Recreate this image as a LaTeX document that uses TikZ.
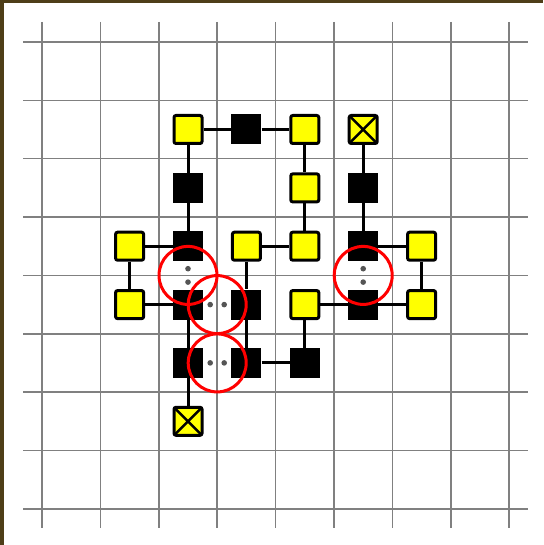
\documentclass[tikz,border=0pt]{standalone}
\usetikzlibrary{calc}
\definecolor{frame}{RGB}{78,62,24}
\definecolor{gridc}{RGB}{128,128,128}
\definecolor{dotc}{RGB}{85,85,85}
\definecolor{ylw}{RGB}{255,255,0}
\definecolor{ringred}{RGB}{255,0,0}
\tikzset{
  ysq/.style={draw=black, line width=3pt, fill=ylw, minimum size=28pt, inner sep=0pt, rounded corners=2pt, rectangle},
  bsq/.style={fill=black, minimum size=30pt, inner sep=0pt, rectangle},
  xsq/.style={ysq, path picture={\draw[line width=2.5pt] (path picture bounding box.north west) -- (path picture bounding box.south east) (path picture bounding box.north east) -- (path picture bounding box.south west);}},
  conn/.style={draw=black, line width=3pt},
  ring/.style={circle, draw=ringred, line width=3pt, minimum size=58pt, inner sep=0pt},
  gdot/.style={circle, fill=dotc, minimum size=5.6pt, inner sep=0pt},
  gridline/.style={draw=gridc, line width=1.6pt}
}
\begin{document}
\begin{tikzpicture}[x=1pt,y=-1pt]
\useasboundingbox (0,0) rectangle (543,545);
\fill[white] (0,0) rectangle (543,545);
\fill[frame] (0,0) rectangle (4,545);
\fill[frame] (0,0) rectangle (543,3);
% grid
\foreach \i in {0,...,8} {
  \draw[gridline] ({42+58.4*\i},22) -- ({42+58.4*\i},528);
  \draw[gridline] (23,{42+58.35*\i}) -- (528,{42+58.35*\i});
}
% nodes
\node[ysq] (n21) at (188.0,129.5) {};
\node[bsq] (n31) at (246.4,129.5) {};
\node[ysq] (n41) at (304.8,129.5) {};
\node[xsq] (n51) at (363.2,129.5) {};
\node[bsq] (n22) at (188.0,187.9) {};
\node[ysq] (n42) at (304.8,187.9) {};
\node[bsq] (n52) at (363.2,187.9) {};
\node[ysq] (n13) at (129.6,246.2) {};
\node[bsq] (n23) at (188.0,246.2) {};
\node[ysq] (n33) at (246.4,246.2) {};
\node[ysq] (n43) at (304.8,246.2) {};
\node[bsq] (n53) at (363.2,246.2) {};
\node[ysq] (n63) at (421.6,246.2) {};
\node[ysq] (n14) at (129.6,304.6) {};
\node[bsq] (n24) at (188.0,304.6) {};
\node[bsq] (n34) at (246.4,304.6) {};
\node[ysq] (n44) at (304.8,304.6) {};
\node[bsq] (n54) at (363.2,304.6) {};
\node[ysq] (n64) at (421.6,304.6) {};
\node[bsq] (n25) at (188.0,362.9) {};
\node[bsq] (n35) at (246.4,362.9) {};
\node[bsq] (n45) at (304.8,362.9) {};
\node[xsq] (n26) at (188.0,421.3) {};
% connectors
\draw[conn] (n21) -- (n31);
\draw[conn] (n31) -- (n41);
\draw[conn] (n21) -- (n22);
\draw[conn] (n22) -- (n23);
\draw[conn] (n41) -- (n42);
\draw[conn] (n42) -- (n43);
\draw[conn] (n51) -- (n52);
\draw[conn] (n52) -- (n53);
\draw[conn] (n13) -- (n23);
\draw[conn] (n33) -- (n43);
\draw[conn] (n53) -- (n63);
\draw[conn] (n13) -- (n14);
\draw[conn] (n63) -- (n64);
\draw[conn] (n14) -- (n24);
\draw[conn] (n33) -- (n34);
\draw[conn] (n34) -- (n35);
\draw[conn] (n24) -- (n25);
\draw[conn] (n25) -- (n26);
\draw[conn] (n35) -- (n45);
\draw[conn] (n44) -- (n45);
\draw[conn] (n44) -- (n54);
\draw[conn] (n54) -- (n64);
% rings
\node[ring] (r1) at ($(n23)!0.5!(n24)$) {};
\node[ring] (r2) at ($(n24)!0.5!(n34)$) {};
\node[ring] (r3) at ($(n25)!0.5!(n35)$) {};
\node[ring] (r4) at ($(n53)!0.5!(n54)$) {};
% dots
\node[gdot] (d1a) at ($(r1)+(0,-6.7)$) {};
\node[gdot] (d1b) at ($(r1)+(0,6.7)$) {};
\node[gdot] (d2a) at ($(r2)+(-7,0)$) {};
\node[gdot] (d2b) at ($(r2)+(7,0)$) {};
\node[gdot] (d3a) at ($(r3)+(-7,0)$) {};
\node[gdot] (d3b) at ($(r3)+(7,0)$) {};
\node[gdot] (d4a) at ($(r4)+(0,-6.7)$) {};
\node[gdot] (d4b) at ($(r4)+(0,6.7)$) {};
\end{tikzpicture}
\end{document}
